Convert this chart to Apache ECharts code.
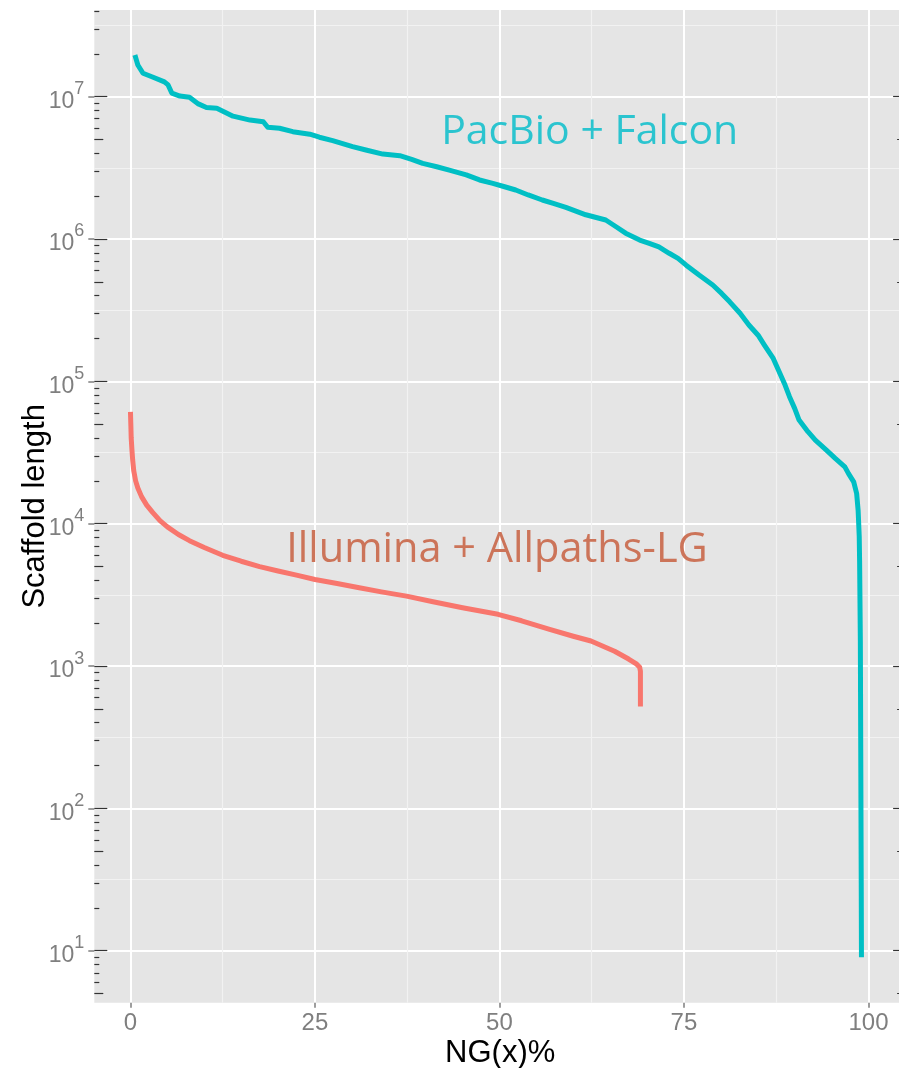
<!DOCTYPE html>
<html>
<head>
<meta charset="utf-8">
<script src="https://cdn.jsdelivr.net/npm/echarts@6/dist/echarts.min.js"></script>
<style>
  html, body { margin: 0; padding: 0; background: #ffffff; }
  #chart { width: 899px; height: 1068px; }
</style>
</head>
<body>
<div id="chart"></div>
<script>
// NG(x) curves: percentage of genome covered vs. scaffold length
const pacbioX = [0.6, 1.0, 1.7, 2.9, 4.6, 5.1, 5.6, 6.7, 8.0, 9.2, 10.3, 11.7, 13.9, 16.2, 18.0, 18.6,
  20.2, 22.0, 24.3, 25.6, 27.4, 30.1, 31.9, 34.2, 36.5, 38.1, 39.6, 41.5, 43.2, 45.5, 47.3, 49.1,
  50.7, 52.2, 53.9, 55.8, 57.3, 59.0, 61.7, 63.5, 64.4, 65.8, 67.1, 69.0, 70.3, 71.6, 73.0, 74.2,
  75.3, 77.05, 78.9, 80.1, 81.2, 82.6, 83.8, 85.05, 85.9, 87.1, 87.9, 88.7, 89.3, 90.0, 90.6, 91.8,
  92.8, 94.3, 95.5, 96.8, 97.3, 98.0, 98.4, 98.6, 98.75, 98.8, 98.9, 98.97, 99.02, 99.05];
const pacbioLen = [19600000, 16700000, 14600000, 13800000, 12700000, 12100000, 10600000, 10100000,
  9900000, 8900000, 8400000, 8300000, 7300000, 6850000, 6670000, 6100000, 6000000, 5680000, 5450000,
  5190000, 4910000, 4460000, 4220000, 3950000, 3850000, 3630000, 3400000, 3220000, 3050000, 2820000,
  2600000, 2460000, 2330000, 2210000, 2040000, 1880000, 1780000, 1670000, 1480000, 1400000, 1360000,
  1220000, 1100000, 984000, 933000, 880000, 794000, 731000, 655000, 558000, 475000, 415000, 362000,
  301000, 249000, 211000, 180000, 145000, 117000, 94200, 78000, 64600, 53500, 44300, 38600, 32900,
  28800, 25100, 22500, 19700, 16300, 12400, 8100, 5500, 1500, 150, 30, 9];

const illuminaX = [0.0, 0.05, 0.1, 0.2, 0.3, 0.45, 0.7, 1.0, 1.5, 2.2, 3.0, 4.0, 5.0, 6.5, 8.0, 10.0,
  12.5, 15.0, 17.5, 20.0, 22.5, 25.0, 28.0, 31.0, 34.0, 37.4, 41.0, 45.0, 49.8, 53.0, 56.8, 60.0,
  62.4, 65.6, 67.5, 68.6, 69.0, 69.1, 69.1];
const illuminaLen = [61000, 50000, 40000, 33000, 28000, 23500, 20000, 17800, 15500, 13500, 12000,
  10500, 9500, 8400, 7600, 6800, 6000, 5450, 5000, 4650, 4350, 4060, 3800, 3550, 3320, 3100, 2830,
  2570, 2310, 2080, 1810, 1620, 1500, 1270, 1120, 1030, 980, 920, 520];

const seriesNames = ['Illumina + Allpaths-LG', 'PacBio + Falcon'];
const xTicks = [0, 25, 50, 75, 100];
const xMinorTicks = [12.5, 37.5, 62.5, 87.5];
const yExponents = [1, 2, 3, 4, 5, 6, 7];

const xMin = -4.9, xMax = 105.1;
const yMin = Math.pow(10, 0.635), yMax = Math.pow(10, 7.609);

const inRange = v => v >= yMin && v <= yMax;
const decades = yExponents.map(e => Math.pow(10, e));
const halfDecades = [];
const fives = [];
const others = [];
for (let e = 0; e <= 8; e++) {
  const h = Math.pow(10, e + 0.5);
  if (inRange(h)) halfDecades.push(h);
  for (let k = 2; k <= 9; k++) {
    const v = k * Math.pow(10, e);
    if (!inRange(v)) continue;
    if (k === 5) fives.push(v); else others.push(v);
  }
}

const labelFont = 'Liberation Sans, Arial, Helvetica, sans-serif';
const tickGrey = '#7f7f7f';

// hidden helper axis that only draws ticks (or grid lines) at given values
function helperY(values, opts) {
  return Object.assign({
    type: 'log', logBase: 10, min: yMin, max: yMax, gridIndex: 0,
    position: 'left',
    axisLine: { show: false, onZero: false },
    axisLabel: { show: false },
    splitLine: { show: false },
    axisTick: { show: true, inside: true, length: 5, customValues: values,
      lineStyle: { color: '#333333', width: 1 } }
  }, opts);
}

function logTicks(values, length, position) {
  return helperY(values, { position: position, axisTick: { show: true, inside: true,
    length: length, customValues: values, lineStyle: { color: '#333333', width: 1.2 } } });
}

const chart = echarts.init(document.getElementById('chart'), null, { renderer: 'canvas' });

const option = {
  animation: false,
  backgroundColor: '#ffffff',
  grid: {
    left: 94.3, top: 10, width: 811.8, height: 992.7,
    show: true, backgroundColor: '#e5e5e5', borderWidth: 0,
    containLabel: false, outerBoundsMode: 'none'
  },
  xAxis: [
    {
      type: 'value', min: xMin, max: xMax, gridIndex: 0, position: 'bottom',
      name: 'NG(x)%', nameLocation: 'middle', nameGap: 35, nameMoveOverlap: false,
      nameTextStyle: { fontSize: 31, color: '#000000', fontFamily: labelFont },
      axisLine: { show: false, onZero: false },
      axisTick: { show: true, length: 5, customValues: xTicks,
        lineStyle: { color: tickGrey, width: 1.5 } },
      axisLabel: { customValues: xTicks, margin: 9, fontSize: 24, color: tickGrey,
        fontFamily: labelFont },
      splitLine: { show: true, lineStyle: { color: '#ffffff', width: 2 } }
    },
    {
      type: 'value', min: xMin, max: xMax, gridIndex: 0, position: 'top',
      axisLine: { show: false, onZero: false },
      axisTick: { show: false, customValues: xMinorTicks },
      axisLabel: { show: false },
      splitLine: { show: true, lineStyle: { color: '#f2f2f2', width: 1.2 } }
    }
  ],
  yAxis: [
    {
      type: 'log', logBase: 10, min: yMin, max: yMax, gridIndex: 0, position: 'left',
      name: 'Scaffold length', nameLocation: 'middle', nameGap: 43, nameMoveOverlap: false,
      nameTextStyle: { fontSize: 31, color: '#000000', fontFamily: labelFont },
      axisLine: { show: false, onZero: false },
      axisTick: { show: true, length: 6, customValues: decades,
        lineStyle: { color: tickGrey, width: 1.5 } },
      axisLabel: {
        customValues: decades, margin: 10,
        formatter: v => '{b|10}{s|' + Math.round(Math.log10(v)) + '}',
        rich: {
          b: { fontSize: 23, color: tickGrey, fontFamily: labelFont, lineHeight: 33, verticalAlign: 'bottom' },
          s: { fontSize: 18, color: tickGrey, fontFamily: labelFont, lineHeight: 33, verticalAlign: 'top' }
        }
      },
      splitLine: { show: true, lineStyle: { color: '#ffffff', width: 2 } }
    },
    helperY(halfDecades, {
      axisTick: { show: false, customValues: halfDecades },
      splitLine: { show: true, lineStyle: { color: '#f2f2f2', width: 1.2 } }
    }),
    // log ticks along the left and right edges of the panel
    logTicks(decades, 13, 'left'),
    logTicks(fives, 9, 'left'),
    logTicks(others, 5, 'left'),
    logTicks(decades, 13, 'right'),
    logTicks(fives, 9, 'right'),
    logTicks(others, 5, 'right')
  ],
  series: [
    {
      name: seriesNames[0], type: 'line', xAxisIndex: 0, yAxisIndex: 0,
      data: illuminaX.map((x, i) => [x, illuminaLen[i]]),
      showSymbol: false, symbol: 'none', silent: true, z: 3,
      lineStyle: { color: '#f8766d', width: 5, join: 'round', cap: 'butt' }
    },
    {
      name: seriesNames[1], type: 'line', xAxisIndex: 0, yAxisIndex: 0,
      data: pacbioX.map((x, i) => [x, pacbioLen[i]]),
      showSymbol: false, symbol: 'none', silent: true, z: 3,
      lineStyle: { color: '#00bfc4', width: 5, join: 'round', cap: 'butt' }
    }
  ]
};

chart.setOption(option);

// series captions placed in data space
const captionAnchors = [
  { text: seriesNames[1], at: [42.1, Math.pow(10, 6.75)], color: '#2bc4cf', size: 41 },
  { text: seriesNames[0], at: [21.1, Math.pow(10, 3.815)], color: '#cc7459', size: 41.5 }
];
chart.setOption({
  graphic: captionAnchors.map(c => {
    const p = chart.convertToPixel({ xAxisIndex: 0, yAxisIndex: 0 }, c.at);
    return {
      type: 'text', x: p[0], y: p[1], z: 10, silent: true,
      style: {
        text: c.text, fill: c.color, font: c.size + 'px "Open Sans", sans-serif',
        textAlign: 'left', textVerticalAlign: 'middle'
      }
    };
  })
});
</script>
</body>
</html>
